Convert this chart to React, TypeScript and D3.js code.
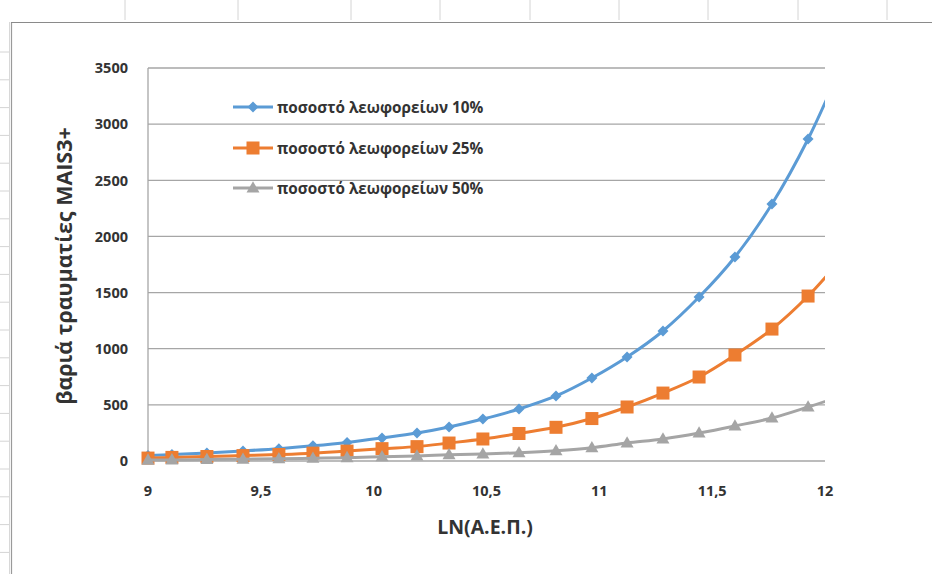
import React from "react";
import * as d3 from "d3";

const xValues = [9.0, 9.106, 9.261, 9.421, 9.58, 9.731, 9.882, 10.037, 10.192, 10.334, 10.484, 10.644, 10.808, 10.967, 11.123, 11.282, 11.442, 11.601, 11.765, 11.925, 12.089];
const bus10 = [48, 58, 72, 90, 110, 135, 165, 205, 249, 303, 374, 463, 579, 739, 926, 1158, 1460, 1817, 2289, 2868, 3600];
const bus25 = [26, 32, 40, 48, 58, 70, 88, 110, 128, 160, 196, 245, 300, 378, 481, 605, 748, 944, 1175, 1469, 1840];
const bus50 = [8, 10, 13, 16, 20, 24, 30, 37, 45, 55, 62, 74, 92, 118, 160, 196, 249, 312, 383, 481, 590];
const seriesNames = ["ποσοστό λεωφορείων 10%", "ποσοστό λεωφορείων 25%", "ποσοστό λεωφορείων 50%"];
const xTicks = [9, 9.5, 10, 10.5, 11, 11.5, 12];
const yTicks = [0, 500, 1000, 1500, 2000, 2500, 3000, 3500];
const xTitle = "LN(Α.Ε.Π.)";
const yTitle = "βαριά τραυματίες MAIS3+";

const W = 932, H = 574;
const colors = ["#5b9bd5", "#ed7d31", "#a5a5a5"];
const FONT = "'Open Sans', 'Noto Sans', sans-serif";
const TEXT = "#333333";

function Marker({ kind, cx, cy, color }: { kind: number; cx: number; cy: number; color: string }) {
  if (kind === 0) {
    const r = 5.5;
    return <path d={`M${cx},${cy - r}L${cx + r},${cy}L${cx},${cy + r}L${cx - r},${cy}Z`} fill={color} />;
  }
  if (kind === 1) {
    const s = 13;
    return <rect x={cx - s / 2} y={cy - s / 2} width={s} height={s} fill={color} />;
  }
  const s = 13;
  const h = s * 0.87;
  return <path d={`M${cx},${cy - h * 0.6}L${cx + s / 2},${cy + h * 0.4}L${cx - s / 2},${cy + h * 0.4}Z`} fill={color} />;
}

export default function App() {
  const x = d3.scaleLinear().domain([9, 12]).range([148, 825]);
  const y = d3.scaleLinear().domain([0, 3500]).range([461, 68]);
  const data = [bus10, bus25, bus50];
  const line = d3
    .line<[number, number]>()
    .x((d) => x(d[0]))
    .y((d) => y(d[1]))
    .curve(d3.curveCatmullRom.alpha(0.5));

  const colMarks = [125, 238, 351, 440, 530, 619, 708, 798, 887];
  const rowMarks = d3.range(52, 574, 27.8);
  const legendY = [107, 148, 188];

  return (
    <svg width={W} height={H} style={{ position: "absolute", left: 0, top: 0, background: "#fff" }}>
      <defs>
        <clipPath id="plotclip">
          <rect x={0} y={0} width={825} height={574} />
        </clipPath>
      </defs>
      <rect x={0} y={0} width={W} height={H} fill="#fff" />
      {colMarks.map((cx) => (
        <line key={"c" + cx} x1={cx} x2={cx} y1={0} y2={20} stroke="#d4d4d4" strokeWidth={1} />
      ))}
      {rowMarks.map((ry) => (
        <line key={"r" + ry} x1={0} x2={10} y1={ry} y2={ry} stroke="#d4d4d4" strokeWidth={1} />
      ))}
      <line x1={9.5} x2={9.5} y1={22} y2={H} stroke="#d8d8d8" strokeWidth={1} />
      <line x1={11.5} x2={11.5} y1={22} y2={H} stroke="#9a9a9a" strokeWidth={1.2} />
      <line x1={11} x2={W} y1={22.5} y2={22.5} stroke="#8a8a8a" strokeWidth={1.2} />

      {yTicks.map((t) => (
        <g key={"y" + t}>
          <line x1={148} x2={825} y1={y(t)} y2={y(t)} stroke="#a6a6a6" strokeWidth={1.3} />
          <text x={128} y={y(t)} dy="0.36em" textAnchor="end" fontFamily={FONT} fontWeight={700} fontSize={14.5} fill={TEXT}>
            {t}
          </text>
        </g>
      ))}
      <line x1={148} x2={148} y1={68} y2={461} stroke="#a6a6a6" strokeWidth={1.3} />
      {xTicks.map((t) => (
        <text key={"x" + t} x={x(t)} y={491} dy="0.36em" textAnchor="middle" fontFamily={FONT} fontWeight={700} fontSize={14.5} fill={TEXT}>
          {String(t).replace(".", ",")}
        </text>
      ))}
      <text x={485} y={527} dy="0.36em" textAnchor="middle" fontFamily={FONT} fontWeight={700} fontSize={19.5} fill={TEXT}>
        {xTitle}
      </text>
      <text
        transform={`translate(72,266) rotate(-90)`}
        textAnchor="middle"
        fontFamily={FONT}
        fontWeight={700}
        fontSize={21.5}
        fill={TEXT}
      >
        {yTitle}
      </text>

      <g clipPath="url(#plotclip)">
        {data.map((vals, si) => {
          const pts = xValues.map((xv, i) => [xv, vals[i]] as [number, number]);
          return (
            <g key={"s" + si}>
              <path d={line(pts) || ""} fill="none" stroke={colors[si]} strokeWidth={3} />
              {pts.map((p, i) => (
                <Marker key={i} kind={si} cx={x(p[0])} cy={y(p[1])} color={colors[si]} />
              ))}
            </g>
          );
        })}
      </g>

      {seriesNames.map((name, si) => (
        <g key={"l" + si}>
          <line x1={233} x2={273} y1={legendY[si]} y2={legendY[si]} stroke={colors[si]} strokeWidth={3} />
          <Marker kind={si} cx={253} cy={legendY[si]} color={colors[si]} />
          <text x={277} y={legendY[si]} dy="0.36em" fontFamily={FONT} fontWeight={700} fontSize={15.3} fill={TEXT}>
            {name}
          </text>
        </g>
      ))}
    </svg>
  );
}
